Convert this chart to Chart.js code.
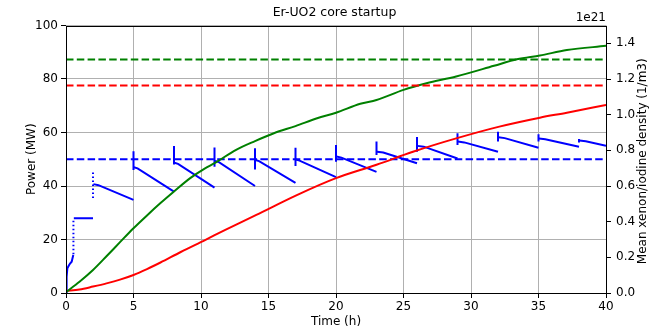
<!DOCTYPE html>
<html>
<head>
<meta charset="utf-8">
<script src="https://cdn.jsdelivr.net/npm/chart.js@4.4.1/dist/chart.umd.min.js"></script>
<style>
  html, body { margin: 0; padding: 0; background: #fff; }
  #wrap { width: 669px; height: 331px; }
</style>
</head>
<body>
<div id="wrap"><canvas id="c" width="669" height="331"></canvas></div>
<script>
// Reactor power (MW) during startup; null entries split the curve between control steps
const powerTime = [
  0, 0.03, 0.06, 0.1, 0.2, 0.3, 0.42, 0.54, 0.56,
  0.58, 2.0, 2.01,
  2.03, 2.4, 5.0, 5.01,
  5.03, 5.3, 8.0, 8.01,
  8.03, 8.3, 11.0, 11.01,
  11.03, 11.3, 14.0, 14.01,
  14.03, 14.3, 17.0, 17.01,
  17.03, 17.3, 20.0, 20.01,
  20.03, 20.4, 23.0, 23.01,
  23.03, 23.5, 26.0, 26.01,
  26.03, 26.5, 29.0, 29.01,
  29.03, 29.5, 32.0, 32.01,
  32.03, 32.5, 35.0, 35.01,
  35.03, 35.5, 38.0, 38.01,
  38.03, 38.5, 40.0
];
const powerMW = [
  0.3, 3.0, 6.0, 9.2, 10.2, 11.0, 11.7, 14.2, null,
  27.9, 27.9, null,
  40.7, 40.3, 34.8, null,
  47.0, 46.6, 37.9, null,
  48.7, 48.3, 39.4, null,
  49.4, 49.0, 40.0, null,
  49.7, 49.3, 41.2, null,
  49.9, 49.5, 43.3, null,
  51.0, 50.6, 45.3, null,
  52.8, 52.5, 48.5, null,
  55.0, 54.7, 50.3, null,
  56.6, 56.3, 52.8, null,
  58.2, 57.9, 54.3, null,
  57.8, 57.5, 54.7, null,
  57.0, 56.7, 55.0
];

// Fast power transients right after each rod step (MW)
const transientTime = [
  0.55, 0.55, 0.56,
  2.0, 2.0, 2.01,
  5.0, 5.0, 5.01,
  8.0, 8.0, 8.01,
  11.0, 11.0, 11.01,
  14.0, 14.0, 14.01,
  17.0, 17.0, 17.01,
  20.0, 20.0, 20.01,
  23.0, 23.0, 23.01,
  26.0, 26.0, 26.01,
  29.0, 29.0, 29.01,
  32.0, 32.0, 32.01,
  35.0, 35.0, 35.01,
  38.0, 38.0
];
const transientMW = [
  14.5, 27.5, null,
  35.5, 45.8, null,
  46.0, 53.0, null,
  48.0, 55.0, null,
  47.2, 54.4, null,
  46.2, 54.1, null,
  47.5, 54.3, null,
  49.1, 55.3, null,
  51.6, 56.6, null,
  52.8, 58.3, null,
  55.3, 59.7, null,
  56.6, 60.3, null,
  56.6, 59.3, null,
  56.3, 57.6
];

// Mean iodine density (units of 1e21 per m3)
const iodineTime = [0, 1, 2, 3, 4, 5, 6, 7, 8, 9.2, 10.3, 11, 12.6, 14, 15.4, 17, 18.6, 20, 21.8, 23, 25, 26.7, 28.9, 31.7, 33.4, 35.1, 37.1, 40];
const iodineDensity = [0.005, 0.063, 0.129, 0.206, 0.285, 0.363, 0.435, 0.504, 0.569, 0.644, 0.699, 0.728, 0.803, 0.852, 0.896, 0.936, 0.980, 1.011, 1.061, 1.082, 1.139, 1.176, 1.214, 1.274, 1.311, 1.332, 1.362, 1.386];

// Mean xenon density (units of 1e21 per m3)
const xenonTime = [0, 1, 2, 3, 4, 5, 6, 7, 8.5, 10.3, 11.8, 14.1, 17.1, 20, 23, 25.7, 28.9, 32.1, 35.1, 37.1, 40];
const xenonDensity = [0.012, 0.0195, 0.036, 0.054, 0.075, 0.101, 0.134, 0.171, 0.230, 0.297, 0.354, 0.438, 0.549, 0.644, 0.719, 0.792, 0.867, 0.933, 0.983, 1.011, 1.055];

// Reference levels
const powerTarget = [50, 50];
const iodineEquilibrium = [1.31, 1.31];
const xenonEquilibrium = [1.163, 1.163];
const timeRange = [0, 40];

// Axis ticks
const timeTicks = [0, 5, 10, 15, 20, 25, 30, 35, 40];
const powerTicks = [0, 20, 40, 60, 80, 100];
const densityTicks = [0, 0.2, 0.4, 0.6, 0.8, 1.0, 1.2, 1.4];

const pairs = (xs, ys) => xs.map((x, i) => ({ x: x, y: ys[i] }));
const setTicks = values => scale => { scale.ticks = values.map(v => ({ value: v })); };

const FONT = '"DejaVu Sans", "Liberation Sans", sans-serif';
Chart.defaults.font.family = FONT;
Chart.defaults.font.size = 12;
Chart.defaults.color = '#000';

const BLUE = '#0000ff', GREEN = '#008000', RED = '#ff0000', GRID = '#b0b0b0';
const DASH = [7.5, 3.3];

// Frame around the plot, exponent label and right-hand axis title
const framePlugin = {
  id: 'frame',
  afterDraw(chart) {
    const { ctx, chartArea: a } = chart;
    ctx.save();
    ctx.strokeStyle = '#000';
    ctx.lineWidth = 1;
    const l = Math.round(a.left) + 0.5, t = Math.round(a.top) + 0.5;
    const r = Math.round(a.right) + 0.5, b = Math.round(a.bottom) + 0.5;
    ctx.strokeRect(l, t, r - l, b - t);
    ctx.fillStyle = '#000';
    ctx.font = '12px ' + FONT;
    ctx.textAlign = 'right';
    ctx.textBaseline = 'bottom';
    ctx.fillText('1e21', a.right, a.top - 2);
    const y2 = chart.scales.y2;
    ctx.translate(y2.right - 26, (a.top + a.bottom) / 2 + 2);
    ctx.rotate(-Math.PI / 2);
    ctx.textAlign = 'center';
    ctx.textBaseline = 'middle';
    ctx.fillText('Mean xenon/iodine density (1/m3)', 0, 0);
    ctx.restore();
  }
};

const lineBase = { pointRadius: 0, borderWidth: 2, fill: false, spanGaps: false };

new Chart(document.getElementById('c'), {
  type: 'line',
  data: {
    datasets: [
      Object.assign({}, lineBase, { label: 'Iodine equilibrium', data: pairs(timeRange, iodineEquilibrium), yAxisID: 'y2', borderColor: GREEN, borderDash: DASH, order: 0 }),
      Object.assign({}, lineBase, { label: 'Xenon equilibrium', data: pairs(timeRange, xenonEquilibrium), yAxisID: 'y2', borderColor: RED, borderDash: DASH, order: 0 }),
      Object.assign({}, lineBase, { label: 'Iodine', data: pairs(iodineTime, iodineDensity), yAxisID: 'y2', borderColor: GREEN, cubicInterpolationMode: 'monotone', order: 1 }),
      Object.assign({}, lineBase, { label: 'Xenon', data: pairs(xenonTime, xenonDensity), yAxisID: 'y2', borderColor: RED, cubicInterpolationMode: 'monotone', order: 1 }),
      Object.assign({}, lineBase, { label: 'Power target', data: pairs(timeRange, powerTarget), yAxisID: 'y', borderColor: BLUE, borderDash: DASH, order: 3 }),
      Object.assign({}, lineBase, { label: 'Power', data: pairs(powerTime, powerMW), yAxisID: 'y', borderColor: BLUE, order: 4 }),
      Object.assign({}, lineBase, {
        label: 'Power transient', data: pairs(transientTime, transientMW), yAxisID: 'y', borderColor: BLUE, order: 4,
        segment: { borderDash: c => (c.p0.parsed.x < 3 ? [1.5, 2.5] : undefined) }
      })
    ]
  },
  options: {
    responsive: false,
    animation: false,
    events: [],
    layout: { padding: 0 },
    plugins: {
      legend: { display: false },
      tooltip: { enabled: false },
      title: {
        display: true,
        text: 'Er-UO2 core startup',
        font: { size: 12.5, weight: 'normal' },
        color: '#000',
        padding: { top: 5, bottom: 5.5 }
      }
    },
    scales: {
      x: {
        type: 'linear',
        min: 0, max: 40,
        afterBuildTicks: setTicks(timeTicks),
        afterFit: s => { s.height = 38; },
        ticks: { padding: 2, maxRotation: 0, callback: v => String(v) },
        grid: { color: GRID, lineWidth: 1, tickColor: '#000', tickLength: 5, tickWidth: 1 },
        border: { display: false },
        title: { display: true, text: 'Time (h)', padding: { top: 0, bottom: 2 } }
      },
      y: {
        type: 'linear',
        position: 'left',
        min: 0, max: 100,
        afterBuildTicks: setTicks(powerTicks),
        afterFit: s => { s.width = 66; },
        ticks: { padding: 3, callback: v => String(v) },
        grid: { color: GRID, lineWidth: 1, tickColor: '#000', tickLength: 5, tickWidth: 1 },
        border: { display: false },
        title: { display: true, text: 'Power (MW)', padding: { top: 25, bottom: 0 } }
      },
      y2: {
        type: 'linear',
        position: 'right',
        min: 0, max: 1.5,
        afterBuildTicks: setTicks(densityTicks),
        afterFit: s => { s.width = 63; },
        ticks: { padding: 5, callback: v => Number(v).toFixed(1) },
        grid: { drawOnChartArea: false, tickColor: '#000', tickLength: 5, tickWidth: 1 },
        border: { display: false }
      }
    }
  },
  plugins: [framePlugin]
});
</script>
</body>
</html>
